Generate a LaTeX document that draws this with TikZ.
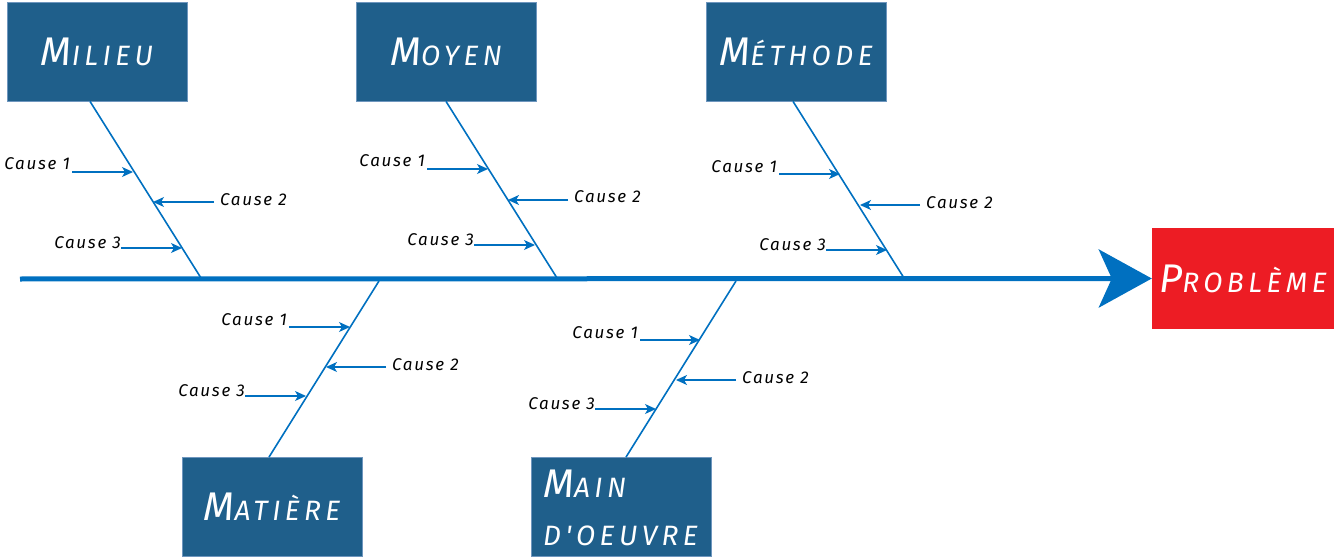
\documentclass[tikz,border=0pt]{standalone}
\usepackage{fontspec}
\setmainfont{Fira Sans}
\newfontfamily\handfont[LetterSpace=10]{Fira Sans}
\newfontfamily\boxfont[LetterSpace=16]{Fira Sans}
\usetikzlibrary{arrows.meta,calc}
\definecolor{boxblue}{RGB}{31,95,139}
\definecolor{boxedge}{RGB}{110,150,190}
\definecolor{lineblue}{RGB}{0,112,192}
\definecolor{probred}{RGB}{237,28,36}
\newcommand\fksc[2]{{\fontsize{40}{40}\selectfont #1}{\fontsize{28}{28}\selectfont #2}}
\begin{document}
\begin{tikzpicture}[x=1pt,y=-1pt,
  catbox/.style={rectangle,fill=boxblue,draw=boxedge,line width=0.8pt,minimum width=180pt,minimum height=99pt,text=white,font=\boxfont\itshape,inner sep=0pt},
  probbox/.style={rectangle,fill=probred,minimum width=182pt,minimum height=101pt,text=white,font=\boxfont\itshape,inner sep=0pt},
  lbl/.style={text=white,font=\boxfont\itshape,inner sep=0pt},
  bone/.style={draw=lineblue,line width=1.6pt},
  causearrow/.style={draw=lineblue,line width=1.3pt,-{Stealth[length=11pt,width=10pt,inset=3pt]}},
  causetxt/.style={font=\handfont\itshape\fontsize{17}{17}\selectfont,inner sep=0pt,text=black},
  spine/.style={draw=lineblue,line width=5pt,-{Stealth[length=53pt,width=58pt,inset=13pt]}}
]
\useasboundingbox (0,0) rectangle (1334,559);

% boxes
\node[catbox] (milieu) at (97,51.5) {\fksc{M}{ILIEU}};
\node[catbox] (moyen) at (446,51.5) {\fksc{M}{OYEN}};
\node[catbox] (methode) at (796,51.5) {\fksc{M}{ÉTHODE}};
\node[catbox] (matiere) at (272,507) {\fksc{M}{ATIÈRE}};
\node[catbox] (main) at (621,507) {};
\node[lbl,anchor=base west] (mainl1) at (543,497) {\fksc{M}{AIN}};
\node[lbl,anchor=base west] (mainl2) at (543,545) {\fontsize{28}{28}\selectfont D'OEUVRE};
\node[probbox] (prob) at (1243,278.5) {\fksc{P}{ROBLÈME}};

% spine
\coordinate (tail) at (20,279);
\draw[spine] (tail) -- (prob.west);

% bone coordinates
\coordinate (b1t) at (90,103);  \coordinate (b1b) at (201,278);
\coordinate (b2t) at (446,103); \coordinate (b2b) at (557,278);
\coordinate (b3t) at (793,101); \coordinate (b3b) at (904,278);
\coordinate (b4t) at (379,281); \coordinate (b4b) at (269,455);
\coordinate (b5t) at (736,281); \coordinate (b5b) at (626,454);
\draw[bone] (milieu.south -| b1t) -- (b1b);
\draw[bone] (moyen.south -| b2t) -- (b2b);
\draw[bone] (methode.south -| b3t) -- (b3b);
\draw[bone] (b4t) -- (matiere.north -| b4b);
\draw[bone] (b5t) -- (main.north -| b5b);

% causes : Milieu
\coordinate (m1a) at (72,172);  \coordinate (m1b) at (133,172);
\coordinate (m2a) at (214,202); \coordinate (m2b) at (153,202);
\coordinate (m3a) at (121,248); \coordinate (m3b) at (182,248);
\node[causetxt,anchor=base east] (m1) at ($(m1a)+(-2,-2)$) {Cause 1};
\node[causetxt,anchor=base west] (m2) at ($(m2a)+(6,3)$) {Cause 2};
\node[causetxt,anchor=base east] (m3) at ($(m3a)+(0,0)$) {Cause 3};
\draw[causearrow] (m1a) -- (m1b);
\draw[causearrow] (m2a) -- (m2b);
\draw[causearrow] (m3a) -- (m3b);

% causes : Moyen
\coordinate (y1a) at (427,169); \coordinate (y1b) at (488,169);
\coordinate (y2a) at (568,200); \coordinate (y2b) at (508,200);
\coordinate (y3a) at (474,245); \coordinate (y3b) at (535,245);
\node[causetxt,anchor=base east] (y1) at ($(y1a)+(-2,-2)$) {Cause 1};
\node[causetxt,anchor=base west] (y2) at ($(y2a)+(6,3)$) {Cause 2};
\node[causetxt,anchor=base east] (y3) at ($(y3a)+(0,0)$) {Cause 3};
\draw[causearrow] (y1a) -- (y1b);
\draw[causearrow] (y2a) -- (y2b);
\draw[causearrow] (y3a) -- (y3b);

% causes : Methode
\coordinate (t1a) at (779,174); \coordinate (t1b) at (840,174);
\coordinate (t2a) at (920,205); \coordinate (t2b) at (860,205);
\coordinate (t3a) at (826,250); \coordinate (t3b) at (887,250);
\node[causetxt,anchor=base east] (t1) at ($(t1a)+(-2,-2)$) {Cause 1};
\node[causetxt,anchor=base west] (t2) at ($(t2a)+(6,3)$) {Cause 2};
\node[causetxt,anchor=base east] (t3) at ($(t3a)+(0,0)$) {Cause 3};
\draw[causearrow] (t1a) -- (t1b);
\draw[causearrow] (t2a) -- (t2b);
\draw[causearrow] (t3a) -- (t3b);

% causes : Matiere
\coordinate (a1a) at (289,327); \coordinate (a1b) at (350,327);
\coordinate (a2a) at (386,367); \coordinate (a2b) at (326,367);
\coordinate (a3a) at (245,396); \coordinate (a3b) at (306,396);
\node[causetxt,anchor=base east] (a1) at ($(a1a)+(-2,-2)$) {Cause 1};
\node[causetxt,anchor=base west] (a2) at ($(a2a)+(6,3)$) {Cause 2};
\node[causetxt,anchor=base east] (a3) at ($(a3a)+(0,0)$) {Cause 3};
\draw[causearrow] (a1a) -- (a1b);
\draw[causearrow] (a2a) -- (a2b);
\draw[causearrow] (a3a) -- (a3b);

% causes : Main d'oeuvre
\coordinate (o1a) at (640,340); \coordinate (o1b) at (700,340);
\coordinate (o2a) at (736,380); \coordinate (o2b) at (676,380);
\coordinate (o3a) at (595,409); \coordinate (o3b) at (656,409);
\node[causetxt,anchor=base east] (o1) at ($(o1a)+(-2,-2)$) {Cause 1};
\node[causetxt,anchor=base west] (o2) at ($(o2a)+(6,3)$) {Cause 2};
\node[causetxt,anchor=base east] (o3) at ($(o3a)+(0,0)$) {Cause 3};
\draw[causearrow] (o1a) -- (o1b);
\draw[causearrow] (o2a) -- (o2b);
\draw[causearrow] (o3a) -- (o3b);
\end{tikzpicture}
\end{document}
